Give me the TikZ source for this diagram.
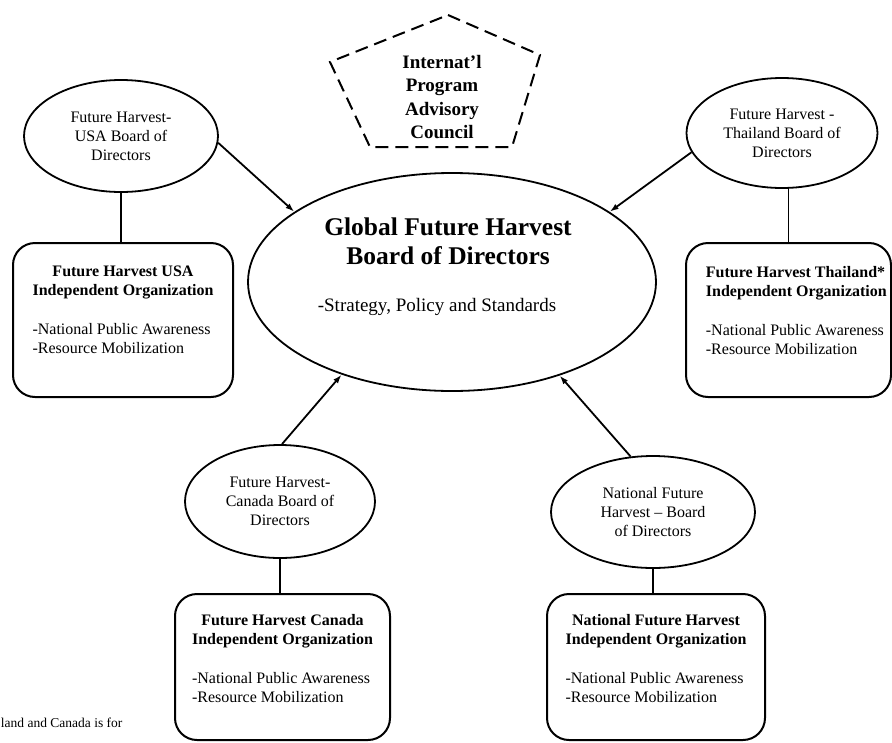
\documentclass[tikz,border=0pt]{standalone}
\usepackage{fontspec}
\setmainfont{Liberation Serif}
\usetikzlibrary{arrows.meta, shapes.geometric, calc}

\begin{document}
\begin{tikzpicture}[x=1pt, y=-1pt, >={Latex[length=9pt,width=6pt]},
          line width=1.8pt,
          board/.style={ellipse, draw, inner sep=0pt, align=center,
                        font=\fontsize{16}{19}\selectfont},
          orgbox/.style={draw, rounded corners=22pt, line width=2pt},
          orgtext/.style={inner sep=0pt, font=\fontsize{16}{18.5}\selectfont}]
        \useasboundingbox (0,0) rectangle (892,742);
        % advisory council
        \draw[line width=2pt, dash pattern=on 13pt off 7pt]
              (448,15) -- (540,55) -- (512,147) -- (370,147) -- (330,62) -- cycle;
        \node[align=center, font=\fontsize{19}{23.5}\selectfont\bfseries]
              (council) at (442,97) {Internat'l\\Program\\Advisory\\Council};
        % global board
        \node[ellipse, draw, minimum width=408pt, minimum height=218pt,
              inner sep=0pt] (global) at (452,282) {};
        \node[align=center, font=\fontsize{25.5}{29}\selectfont\bfseries]
              (gtitle) at (448,241) {Global Future Harvest\\Board of Directors};
        \node[font=\fontsize{19}{22}\selectfont] (gsub) at (437,307)
              {-Strategy, Policy and Standards};
        % USA
        \node[board, minimum width=194pt, minimum height=112pt] (usa)
              at (121,136) {Future Harvest-\\USA Board of\\Directors};
        \node[orgbox, minimum width=220pt, minimum height=154pt] (usaorg)
              at (123,320) {};
        \node[orgtext, anchor=north] (usatxt) at ($(usaorg.north)+(0,21)$)
              {\begin{tabular}{@{}l@{}}
               \multicolumn{1}{@{}c@{}}{\bfseries Future Harvest USA}\\
               \bfseries Independent Organization\\[21pt]
               -National Public Awareness\\
               -Resource Mobilization
               \end{tabular}};
        \draw (usa.south) -- (usa.south |- usaorg.north);
        \draw[->] (usa.-4) -- (global.156);
        % Thailand
        \node[board, minimum width=191pt, minimum height=110pt] (thai)
              at (782,133) {Future Harvest -\\Thailand Board of\\Directors};
        \node[orgbox, minimum width=205pt, minimum height=154pt] (thaiorg)
              at (788.5,320) {};
        \node[orgtext, anchor=north west] (thaitxt) at (705,264)
              {\begin{tabular}{@{}l@{}}
               \bfseries Future Harvest Thailand*\\
               \bfseries Independent Organization\\[21pt]
               -National Public Awareness\\
               -Resource Mobilization
               \end{tabular}};
        \draw (thaiorg.north) -- (thaiorg.north |- thai.south);
        \draw[->] (thai.192) -- (global.24);
        % Canada
        \node[board, minimum width=190pt, minimum height=113pt] (canada)
              at (280,501.5) {Future Harvest-\\Canada Board of\\Directors};
        \node[orgbox, minimum width=215pt, minimum height=146pt] (canadaorg)
              at (282.5,667) {};
        \node[orgtext, anchor=north] (canadatxt) at ($(canadaorg.north)+(0,19)$)
              {\begin{tabular}{@{}l@{}}
               \multicolumn{1}{@{}c@{}}{\bfseries Future Harvest Canada}\\
               \bfseries Independent Organization\\[21pt]
               -National Public Awareness\\
               -Resource Mobilization
               \end{tabular}};
        \draw (canada.south) -- (canada.south |- canadaorg.north);
        \draw[->] (canada.88) -- (global.220);
        % national
        \node[board, minimum width=204pt, minimum height=112pt] (natl)
              at (653,512) {National Future\\Harvest -- Board\\of Directors};
        \node[orgbox, minimum width=218pt, minimum height=146pt] (natlorg)
              at (656,667) {};
        \node[orgtext, anchor=north] (natltxt) at ($(natlorg.north)+(0,19)$)
              {\begin{tabular}{@{}l@{}}
               \multicolumn{1}{@{}c@{}}{\bfseries National Future Harvest}\\
               \bfseries Independent Organization\\[21pt]
               -National Public Awareness\\
               -Resource Mobilization
               \end{tabular}};
        \draw (natl.south) -- (natl.south |- natlorg.north);
        \draw[->] (natl.112) -- (global.-41);
        % footnote
        \node[anchor=west, inner sep=0pt, font=\fontsize{13.5}{16}\selectfont]
              (note) at (0,723) {land and Canada is for};
      \end{tikzpicture}
\end{document}
